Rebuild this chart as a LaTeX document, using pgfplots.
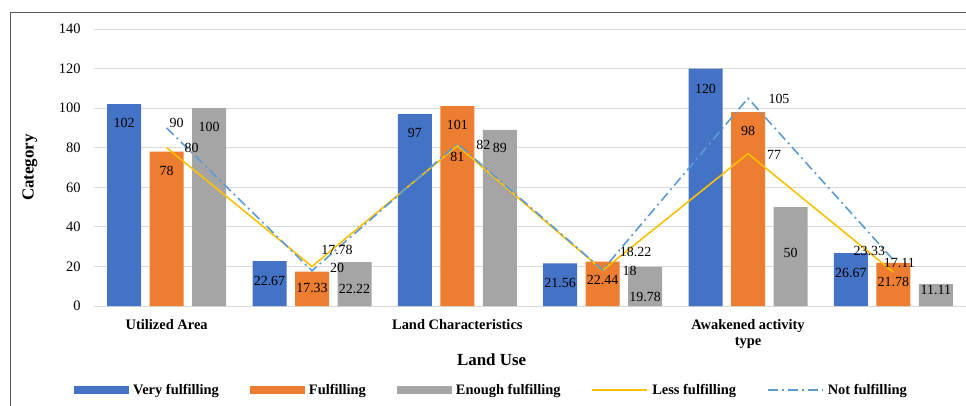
\documentclass[border=0pt]{standalone}
\usepackage{pgfplots}
\pgfplotsset{compat=1.18}
\usepackage{pgfplotstable}
\usepackage{fontspec}
\setmainfont{Liberation Serif}
\definecolor{cVF}{HTML}{4472C4}
\definecolor{cF}{HTML}{ED7D31}
\definecolor{cEF}{HTML}{A5A5A5}
\definecolor{cLess}{HTML}{FFC000}
\definecolor{cNot}{HTML}{5B9BD5}
\definecolor{gridgray}{HTML}{D9D9D9}
\definecolor{framegray}{HTML}{595959}

\pgfplotstableread{
x vf vfdy f fdy ef efdy
0 102 -19 78 -19 100 -18.6
1 22.67 -20 17.33 -16 22.22 -27
2 97 -19 101 -19 89 -18
3 21.56 -20 22.44 -18 19.78 -30
4 120 -20 98 -19 50 -46
5 26.67 -19.5 21.78 -19 11.11 -6
}\bardata

\pgfplotstableread{
x less ldx ldy not ndx ndy
0 80 25 0 90 10 5
1 20 25 -2 17.78 25 21
2 81 0 -11 82 26 -1
3 18 27 -1 18.22 33 18
4 77 26 -1 105 31 -1
5 17.11 6 9 23.33 -24 9
}\linedata

\pgfplotsset{
  mybarlegend/.style={legend image code/.code={\fill[##1] (0bp,-4bp) rectangle (55bp,4bp);}},
  mylinelegend/.style={legend image code/.code={\draw[##1] (0bp,0bp) -- (55bp,0bp);}},
}

\begin{document}
\begin{tikzpicture}
\useasboundingbox (0,0) rectangle (966bp,406bp);
\draw[framegray, line width=1.1bp] (10.5bp,-5bp) -- (10.5bp,393.3bp) -- (980bp,393.3bp);
\begin{axis}[
  at={(94bp,100bp)}, anchor=south west,
  scale only axis, width=872bp, height=277bp,
  xmin=-0.5, xmax=5.5, ymin=0, ymax=140,
  ytick={0,20,...,140},
  ymajorgrids, grid style={draw=gridgray, line width=0.9bp},
  axis line style={draw=none},
  major tick length=0pt,
  xtick={0,2,4},
  xticklabels={Utilized Area, Land Characteristics, {Awakened activity\\type}},
  xticklabel style={font=\bfseries\fontsize{14.5}{16.5}\selectfont, align=center, anchor=north, yshift=-10bp},
  yticklabel style={font=\fontsize{14.5}{16}\selectfont, xshift=-10bp},
  /pgf/number format/assume math mode=true,
  xlabel={Land Use},
  xlabel style={font=\bfseries\fontsize{17}{20}\selectfont, at={(axis description cs:0.456,-0.195)}, anchor=center},
  ylabel={Category},
  ylabel style={font=\bfseries\fontsize{17}{20}\selectfont, at={(axis description cs:-0.0734,0.5)}, anchor=center},
  clip=false,
  legend columns=5,
  legend style={draw=none, fill=none, inner sep=0pt,
    font=\bfseries\fontsize{14.5}{16}\selectfont,
    at={(axis description cs:-0.0229,-0.3032)}, anchor=west,
    /tikz/every even column/.append style={column sep=29bp},
    /tikz/every odd column/.append style={column sep=2bp}},
  every node near coord/.append style={font=\fontsize{14}{16}\selectfont, text=black, inner sep=0pt},
]
\addplot[ybar, bar width=34bp, bar shift=-42.5bp, fill=cVF, draw=none, mybarlegend,
  point meta=explicit symbolic, nodes near coords,
  visualization depends on={\thisrow{vfdy} \as \dy},
  every node near coord/.append style={anchor=center, xshift=-42.5bp, yshift=\dy bp}]
  table[x=x, y=vf, meta=vf] {\bardata};
\addlegendentry{Very fulfilling}
\addplot[ybar, bar width=34bp, bar shift=0bp, fill=cF, draw=none, mybarlegend,
  point meta=explicit symbolic, nodes near coords,
  visualization depends on={\thisrow{fdy} \as \dy},
  every node near coord/.append style={anchor=center, yshift=\dy bp}]
  table[x=x, y=f, meta=f] {\bardata};
\addlegendentry{Fulfilling}
\addplot[ybar, bar width=34bp, bar shift=42.5bp, fill=cEF, draw=none, mybarlegend,
  point meta=explicit symbolic, nodes near coords,
  visualization depends on={\thisrow{efdy} \as \dy},
  every node near coord/.append style={anchor=center, xshift=42.5bp, yshift=\dy bp}]
  table[x=x, y=ef, meta=ef] {\bardata};
\addlegendentry{Enough fulfilling}
\addplot[cLess, line width=1.6bp, mark=none, mylinelegend,
  point meta=explicit symbolic, nodes near coords,
  visualization depends on={\thisrow{ldx} \as \dx},
  visualization depends on={\thisrow{ldy} \as \dy},
  every node near coord/.append style={anchor=center, xshift=\dx bp, yshift=\dy bp}]
  table[x=x, y=less, meta=less] {\linedata};
\addlegendentry{Less fulfilling}
\addplot[cNot, line width=1.6bp, mark=none, dash pattern=on 10bp off 4bp on 2bp off 4bp, mylinelegend,
  point meta=explicit symbolic, nodes near coords,
  visualization depends on={\thisrow{ndx} \as \dx},
  visualization depends on={\thisrow{ndy} \as \dy},
  every node near coord/.append style={anchor=center, xshift=\dx bp, yshift=\dy bp}]
  table[x=x, y=not, meta=not] {\linedata};
\addlegendentry{Not fulfilling}
\end{axis}
\end{tikzpicture}
\end{document}
